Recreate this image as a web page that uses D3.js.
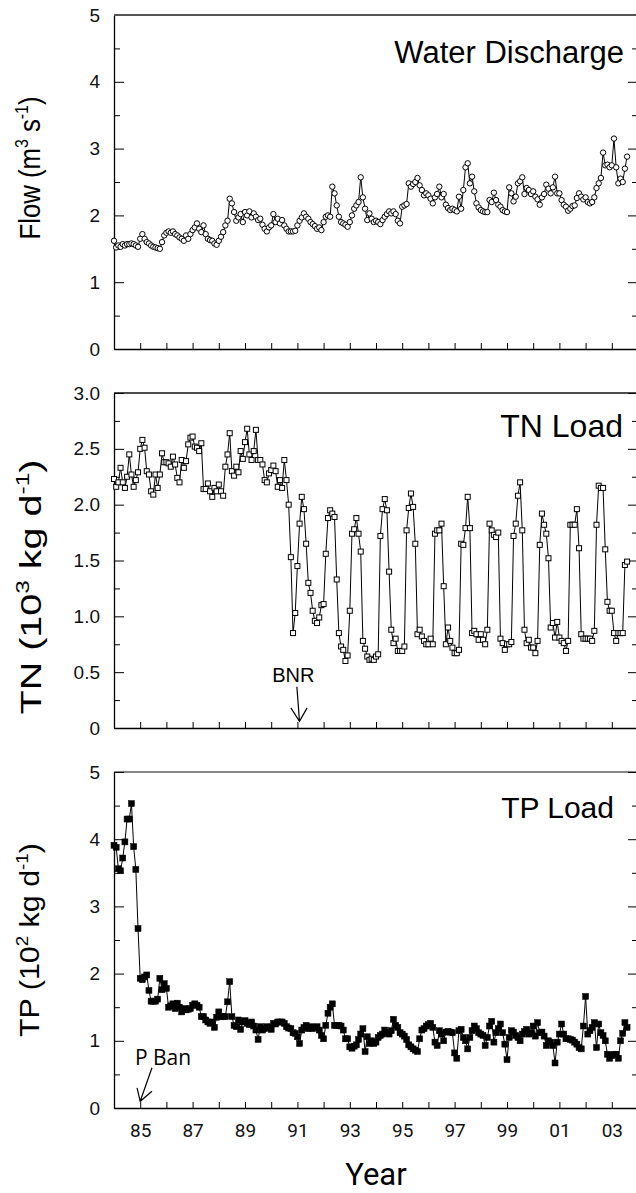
<!DOCTYPE html>
<html>
<head>
<meta charset="utf-8">
<script src="https://cdn.jsdelivr.net/npm/d3@7"></script>
<style>
  html, body { margin: 0; padding: 0; background: #fff; }
  svg { display: block; }
</style>
</head>
<body>
<div id="chart"></div>
<script>
// monthly series, Jan 1984 onwards
const startYear = 1984;

const flowValues = [
  1.62, 1.52, 1.55, 1.53, 1.57, 1.55, 1.57, 1.57, 1.58, 1.57, 1.55, 1.53,
  1.65, 1.72, 1.65, 1.60, 1.58, 1.55, 1.53, 1.52, 1.51, 1.50, 1.60, 1.70,
  1.74, 1.76, 1.74, 1.76, 1.72, 1.70, 1.67, 1.65, 1.62, 1.70, 1.65, 1.72,
  1.78, 1.82, 1.88, 1.80, 1.75, 1.85, 1.72, 1.65, 1.63, 1.62, 1.58, 1.56,
  1.62, 1.68, 1.75, 1.85, 1.92, 2.25, 2.18, 2.05, 1.92, 1.97, 2.02, 1.90,
  2.05, 2.00, 2.06, 1.97, 2.03, 1.98, 1.93, 1.95, 1.86, 1.80, 1.76, 1.82,
  1.85, 2.02, 1.90, 1.95, 1.88, 1.93, 1.85, 1.80, 1.76, 1.76, 1.76, 1.77,
  1.85, 1.92, 1.97, 2.03, 1.98, 1.95, 1.90, 1.87, 1.84, 1.80, 1.82, 1.78,
  1.90, 1.98, 2.00, 1.98, 2.43, 2.33, 2.15, 1.98, 1.90, 1.88, 1.86, 1.83,
  1.90, 2.00, 2.10, 2.15, 2.20, 2.57, 2.27, 2.10, 1.93, 2.03, 1.95, 1.90,
  1.92, 1.90, 1.87, 1.93, 1.98, 2.02, 2.06, 2.03, 2.06, 2.02, 1.92, 1.88,
  2.13, 2.15, 2.17, 2.48, 2.43, 2.47, 2.50, 2.56, 2.45, 2.38, 2.30, 2.33,
  2.30, 2.25, 2.18, 2.27, 2.32, 2.43, 2.27, 2.32, 2.16, 2.11, 2.08, 2.10,
  2.08, 2.06, 2.28, 2.10, 2.38, 2.72, 2.78, 2.48, 2.58, 2.36, 2.18, 2.12,
  2.08, 2.06, 2.05, 2.05, 2.23, 2.20, 2.34, 2.23, 2.16, 2.13, 2.08, 2.06,
  2.05, 2.42, 2.33, 2.21, 2.28, 2.48, 2.51, 2.57, 2.32, 2.41, 2.38, 2.32,
  2.36, 2.28, 2.24, 2.16, 2.27, 2.32, 2.46, 2.40, 2.33, 2.42, 2.58, 2.33,
  2.33, 2.23, 2.16, 2.13, 2.07, 2.10, 2.14, 2.15, 2.26, 2.33, 2.28, 2.24,
  2.27, 2.20, 2.18, 2.20, 2.27, 2.41, 2.48, 2.56, 2.94, 2.75, 2.76, 2.72,
  2.75, 3.15, 2.72, 2.48, 2.55, 2.50, 2.70, 2.88
];

const tnValues = [
  2.23, 2.16, 2.20, 2.33, 2.20, 2.15, 2.25, 2.45, 2.27, 2.16, 2.22, 2.29,
  2.50, 2.58, 2.51, 2.30, 2.27, 2.12, 2.09, 2.27, 2.15, 2.27, 2.46, 2.38,
  2.38, 2.37, 2.34, 2.43, 2.36, 2.24, 2.20, 2.40, 2.33, 2.39, 2.54, 2.60,
  2.61, 2.52, 2.51, 2.48, 2.55, 2.14, 2.14, 2.19, 2.12, 2.07, 2.15, 2.12,
  2.18, 2.12, 2.08, 2.34, 2.45, 2.64, 2.30, 2.26, 2.34, 2.29, 2.48, 2.41,
  2.56, 2.68, 2.45, 2.40, 2.48, 2.67, 2.40, 2.40, 2.36, 2.22, 2.20, 2.28,
  2.31, 2.35, 2.30, 2.16, 2.22, 2.15, 2.40, 2.22, 2.00, 1.53, 0.85, 1.03,
  1.45, 1.83, 2.07, 1.96, 1.65, 1.30, 1.21, 1.05, 0.96, 0.94, 0.99, 1.10,
  1.11, 1.56, 1.88, 1.95, 1.92, 1.89, 1.33, 0.85, 0.73, 0.70, 0.60, 0.65,
  1.05, 1.74, 1.78, 1.88, 1.74, 1.58, 0.78, 0.71, 0.64, 0.61, 0.62, 0.61,
  0.64, 0.66, 1.72, 1.96, 2.05, 1.95, 1.40, 0.88, 0.76, 0.80, 0.69, 0.69,
  0.69, 0.73, 1.77, 1.97, 2.10, 1.98, 1.65, 0.84, 0.88, 0.82, 0.78, 0.75,
  0.75, 0.80, 0.75, 1.74, 1.77, 1.77, 1.83, 1.27, 0.75, 0.90, 0.78, 0.72,
  0.67, 0.67, 0.70, 1.65, 1.64, 1.79, 2.07, 1.79, 0.85, 0.87, 0.84, 0.79,
  0.84, 0.79, 0.75, 0.88, 1.83, 1.77, 1.73, 1.71, 1.75, 0.80, 0.76, 0.70,
  0.75, 0.75, 0.77, 1.72, 1.83, 2.08, 2.20, 1.77, 0.88, 0.76, 0.79, 0.72,
  0.72, 0.67, 0.78, 1.64, 1.92, 1.82, 1.74, 1.52, 0.90, 0.94, 0.81, 0.95,
  0.81, 0.78, 0.76, 0.69, 0.78, 1.82, 1.82, 1.82, 1.96, 1.61, 0.84, 0.80,
  0.80, 0.80, 0.80, 0.78, 0.87, 1.82, 2.17, 2.15, 2.15, 1.60, 1.13, 1.05,
  1.05, 0.85, 0.78, 0.85, 0.85, 0.85, 1.46, 1.49
];

const tpValues = [
  3.91, 3.88, 3.56, 3.53, 3.72, 3.96, 4.30, 4.30, 4.53, 3.89, 3.55, 2.67,
  1.93, 1.91, 1.95, 1.98, 1.75, 1.59, 1.59, 1.59, 1.62, 1.93, 1.76, 1.85,
  1.78, 1.50, 1.52, 1.55, 1.48, 1.56, 1.50, 1.43, 1.48, 1.46, 1.47, 1.48,
  1.53, 1.55, 1.53, 1.50, 1.36, 1.36, 1.31, 1.28, 1.26, 1.28, 1.20, 1.35,
  1.43, 1.36, 1.36, 1.36, 1.58, 1.88, 1.36, 1.23, 1.21, 1.31, 1.17, 1.28,
  1.30, 1.26, 1.24, 1.28, 1.22, 1.16, 1.02, 1.21, 1.16, 1.18, 1.21, 1.20,
  1.17, 1.26, 1.25, 1.28, 1.28, 1.28, 1.26, 1.21, 1.19, 1.18, 1.12, 1.11,
  1.06, 0.96, 1.16, 1.20, 1.23, 1.18, 1.21, 1.18, 1.20, 1.21, 1.16, 1.08,
  1.03, 1.23, 1.41, 1.50, 1.55, 1.23, 1.23, 1.23, 1.22, 1.16, 1.03, 1.03,
  0.91, 0.89, 0.92, 0.94, 1.02, 1.10, 1.18, 0.84, 1.06, 0.96, 1.00, 0.96,
  0.98, 1.05, 1.08, 1.10, 1.16, 1.12, 1.10, 1.15, 1.32, 1.23, 1.20, 1.12,
  1.10, 1.07, 1.02, 0.94, 0.91, 0.88, 0.86, 0.84, 1.03, 1.16, 1.18, 1.22,
  1.24, 1.26, 1.20, 0.98, 0.93, 1.15, 1.10, 1.00, 1.13, 1.14, 1.13, 1.12,
  0.82, 0.74, 1.15, 1.17, 1.05, 1.00, 0.88, 1.05, 1.15, 1.22, 1.18, 1.12,
  1.10, 1.08, 0.93, 1.05, 1.22, 1.29, 0.98, 1.12, 1.18, 1.25, 1.12, 0.95,
  0.72, 1.05, 1.15, 1.13, 1.08, 1.05, 1.00, 1.10, 1.14, 1.17, 1.10, 1.12,
  1.22, 1.07, 1.27, 1.12, 1.13, 1.07, 0.93, 1.00, 0.98, 0.93, 0.67, 0.98,
  1.10, 1.25, 1.10, 1.03, 1.03, 1.02, 1.01, 0.98, 0.95, 0.90, 0.88, 1.22,
  1.66, 1.10, 1.15, 1.20, 1.27, 0.90, 1.25, 1.12, 1.08, 1.00, 0.80, 0.74,
  0.78, 0.80, 0.80, 0.74, 1.00, 1.11, 1.27, 1.20
];

const flowTicks = [0, 1, 2, 3, 4, 5];
const tnTicks = [0, 0.5, 1.0, 1.5, 2.0, 2.5, 3.0];
const tpTicks = [0, 1, 2, 3, 4, 5];
const yearTicks = d3.range(1985, 2004);
const labeledYears = [1985, 1987, 1989, 1991, 1993, 1995, 1997, 1999, 2001, 2003];
const yearTickLabels = ["85", "87", "89", "91", "93", "95", "97", "99", "01", "03"];

const width = 636;
const height = 1193;
const sans = "'Liberation Sans', Arial, Helvetica, sans-serif";

// -----------------------------
// SVG + shared x scale
// -----------------------------
const svg = d3.select("#chart").append("svg")
  .attr("width", width)
  .attr("height", height)
  .attr("viewBox", `0 0 ${width} ${height}`);

svg.append("rect").attr("width", width).attr("height", height).attr("fill", "#fff");

const x = d3.scaleLinear().domain([1984, 2004]).range([114, 638]);
const toPoints = values => values.map((v, i) => ({ t: startYear + i / 12, v }));

const panels = [
  {
    values: flowValues, ticks: flowTicks, max: 5, minorStep: 0.5,
    top: 15, bottom: 349, marker: "circle", fmt: d => d,
    title: "Water Discharge", titleX: 624, titleY: 63, titleSize: 31,
    label: [["Flow (m"], ["3", 1], [" s"], ["-1", 1], [")"]],
    labelX: 40, labelY: 168, labelSize: 29, labelLen: 143,
    topStroke: "#555", topWidth: 2
  },
  {
    values: tnValues, ticks: tnTicks, max: 3, minorStep: 0.25,
    top: 393, bottom: 728, marker: "square", fmt: d => d === 0 ? "0" : d.toFixed(1),
    title: "TN Load", titleX: 623, titleY: 437, titleSize: 32,
    label: [["TN (10"], ["3", 1], [" kg d"], ["-1", 1], [")"]],
    labelX: 41, labelY: 587, labelSize: 30, labelLen: 255,
    topStroke: "#111", topWidth: 1.5
  },
  {
    values: tpValues, ticks: tpTicks, max: 5, minorStep: 0.5,
    top: 772, bottom: 1108, marker: "filled", fmt: d => d,
    title: "TP Load", titleX: 614, titleY: 818, titleSize: 30,
    label: [["TP (10"], ["2", 1], [" kg d"], ["-1", 1], [")"]],
    labelX: 39, labelY: 940, labelSize: 28, labelLen: 194,
    topStroke: "#111", topWidth: 1.2
  }
];

panels.forEach((p, pi) => {
  const y = d3.scaleLinear().domain([0, p.max]).range([p.bottom, p.top]);
  const g = svg.append("g");
  const minor = d3.range(p.minorStep, p.max, p.minorStep).filter(v => !p.ticks.includes(+v.toFixed(2)));

  // -----------------------------
  // Axes
  // -----------------------------
  const left = g.append("g")
    .attr("transform", `translate(${x(1984)},0)`)
    .call(d3.axisLeft(y).tickValues(p.ticks).tickSize(-10).tickSizeOuter(0).tickPadding(14).tickFormat(p.fmt));
  left.select(".domain").attr("stroke", "#000").attr("stroke-width", 1.3);
  left.selectAll("text").style("font-family", sans).style("font-size", "19px").attr("fill", "#111");

  g.append("g")
    .attr("transform", `translate(${x(1984)},0)`)
    .call(d3.axisLeft(y).tickValues(minor).tickSize(-6).tickFormat(""))
    .call(a => a.select(".domain").remove());

  const right = g.append("g")
    .attr("transform", `translate(${x(2004)},0)`);
  right.call(d3.axisRight(y).tickValues(p.ticks).tickSize(-10).tickSizeOuter(0).tickFormat(""));
  right.append("g").call(d3.axisRight(y).tickValues(minor).tickSize(-6).tickFormat(""))
    .call(a => a.select(".domain").remove());

  const bottom = g.append("g")
    .attr("transform", `translate(0,${p.bottom})`)
    .call(d3.axisBottom(x).tickValues(yearTicks).tickSize(-6).tickSizeOuter(0).tickPadding(16)
      .tickFormat(d => pi === 2 && labeledYears.includes(d) ? yearTickLabels[labeledYears.indexOf(d)] : ""));
  bottom.select(".domain").attr("stroke-width", 1.3);
  bottom.selectAll("text").style("font-family", "Roboto, sans-serif").style("font-size", "19px").attr("fill", "#111");

  g.append("line")
    .attr("x1", x(1984)).attr("x2", x(2004))
    .attr("y1", p.top).attr("y2", p.top)
    .attr("stroke", p.topStroke).attr("stroke-width", p.topWidth);

  // -----------------------------
  // Series
  // -----------------------------
  const pts = toPoints(p.values);
  g.append("path")
    .datum(pts)
    .attr("fill", "none")
    .attr("stroke", "#000")
    .attr("stroke-width", 1)
    .attr("d", d3.line().x(d => x(d.t)).y(d => y(d.v)));

  if (p.marker === "circle") {
    g.selectAll(".pt").data(pts).join("circle")
      .attr("cx", d => x(d.t)).attr("cy", d => y(d.v)).attr("r", 2.7)
      .attr("fill", "#fff").attr("stroke", "#000").attr("stroke-width", 1);
  } else {
    const s = p.marker === "filled" ? 6 : 5;
    g.selectAll(".pt").data(pts).join("rect")
      .attr("x", d => x(d.t) - s / 2).attr("y", d => y(d.v) - s / 2)
      .attr("width", s).attr("height", s)
      .attr("fill", p.marker === "filled" ? "#000" : "#fff")
      .attr("stroke", "#000").attr("stroke-width", p.marker === "filled" ? 0.5 : 1);
  }

  // -----------------------------
  // Titles and axis labels
  // -----------------------------
  g.append("text")
    .attr("x", p.titleX).attr("y", p.titleY)
    .attr("text-anchor", "end")
    .style("font-family", sans).style("font-size", p.titleSize + "px")
    .attr("fill", "#000")
    .text(p.title);

  // superscripts shift by a fixed pixel amount so the baseline comes back exactly
  const shift = Math.round(p.labelSize * 0.4);
  const lab = g.append("text")
    .attr("text-anchor", "middle")
    .style("font-family", sans).style("font-size", p.labelSize + "px")
    .attr("fill", "#000");
  p.label.forEach(([txt, sup], k) => {
    lab.append("tspan")
      .attr("dy", sup ? -shift : (k > 0 ? shift : 0))
      .style("font-size", sup ? "62%" : null)
      .text(txt);
  });
  const len = lab.node().getComputedTextLength();
  lab.attr("transform", `translate(${p.labelX},${p.labelY}) rotate(-90) scale(${p.labelLen / len},1)`);
});

// -----------------------------
// Annotations
// -----------------------------
const yTN = d3.scaleLinear().domain([0, 3]).range([728, 393]);
const yTP = d3.scaleLinear().domain([0, 5]).range([1108, 772]);

svg.append("text")
  .attr("x", x(1991) - 4).attr("y", yTN(0.41))
  .attr("text-anchor", "middle")
  .style("font-family", sans).style("font-size", "20px")
  .text("BNR");

svg.append("path")
  .attr("fill", "none").attr("stroke", "#000").attr("stroke-width", 1.2)
  .attr("d", `M${x(1990.98)},${yTN(0.37)} L${x(1991.08)},${yTN(0.06)}
              M${x(1990.75)},${yTN(0.18)} L${x(1991.08)},${yTN(0.06)} L${x(1991.37)},${yTN(0.18)}`);

svg.append("text")
  .attr("x", x(1984.8)).attr("y", yTP(0.64))
  .style("font-family", "'Open Sans', sans-serif").style("font-size", "21px")
  .text("P Ban");

svg.append("path")
  .attr("fill", "none").attr("stroke", "#000").attr("stroke-width", 1.2)
  .attr("d", `M${x(1985.45)},${yTP(0.6)} L${x(1985.0)},${yTP(0.1)}
              M${x(1984.88)},${yTP(0.3)} L${x(1985.0)},${yTP(0.1)} L${x(1985.45)},${yTP(0.25)}`);

// -----------------------------
// X axis title
// -----------------------------
svg.append("text")
  .attr("x", x(1994)).attr("y", 1185)
  .attr("text-anchor", "middle")
  .style("font-family", "Roboto, sans-serif").style("font-size", "31px")
  .text("Year");
</script>
</body>
</html>
